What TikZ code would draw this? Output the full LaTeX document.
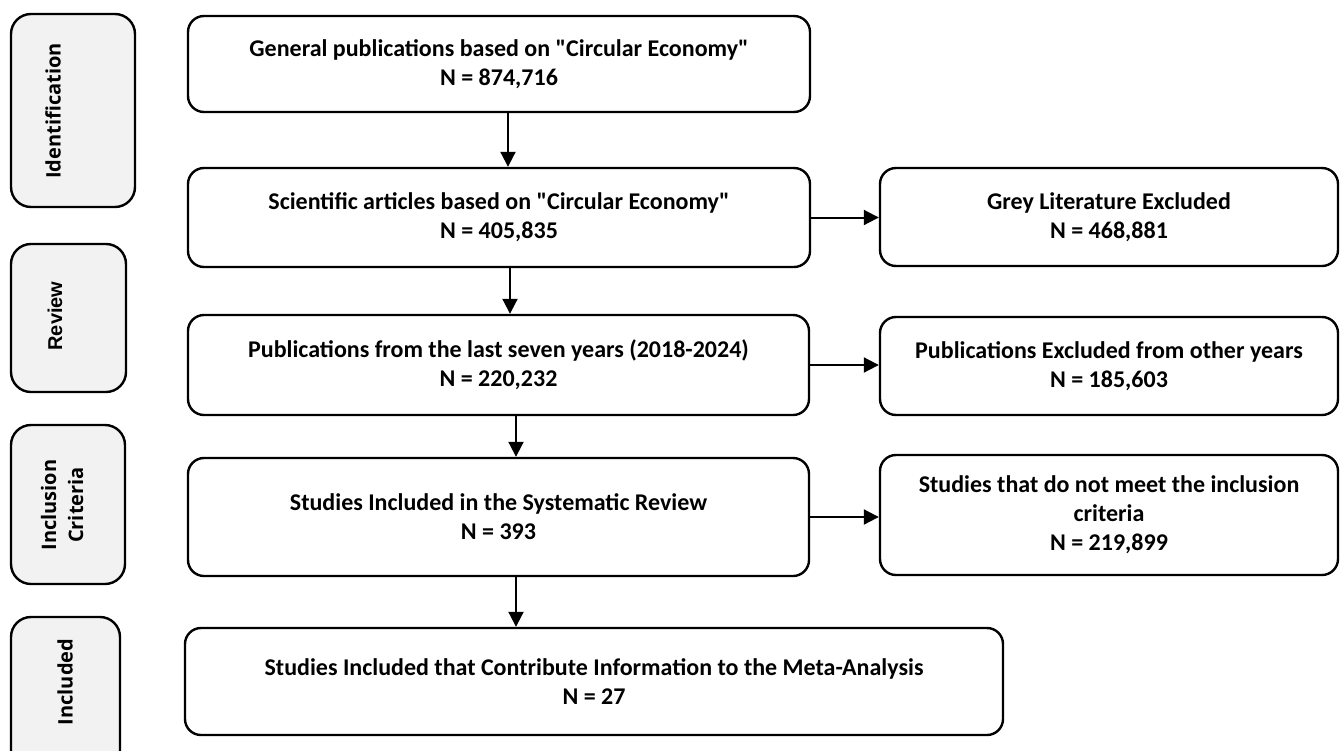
\documentclass[tikz,border=0pt]{standalone}
\usepackage{fontspec}
\newfontfamily\calfont{Carlito}
\newfontfamily\labfont{Open Sans}
\newfontfamily\revfont{Liberation Sans}
\usetikzlibrary{arrows.meta}
\definecolor{stagegray}{HTML}{F2F2F2}
\begin{document}
\begin{tikzpicture}[x=1pt,y=-1pt,
  mainbox/.style={draw, line width=2.4pt, rounded corners=16pt, align=center,
    font=\calfont\bfseries\fontsize{24}{29}\selectfont, inner sep=0pt},
  stagebox/.style={draw, line width=2.4pt, rounded corners=20pt, fill=stagegray, inner sep=0pt},
  stagelabel/.style={rotate=90, align=center, inner sep=0pt,
    font=\labfont\bfseries\fontsize{20}{27}\selectfont},
  flow/.style={line width=2pt, -{Triangle[length=15pt,width=15pt]}}]
\useasboundingbox[fill=white] (0,0) rectangle (1341,750);

% stage boxes
\node[stagebox, minimum width=124pt, minimum height=193pt] (s1) at (73,110.5) {};
\node[stagebox, minimum width=115pt, minimum height=148pt] (s2) at (68.5,318) {};
\node[stagebox, minimum width=114pt, minimum height=159pt] (s3) at (68,504.5) {};
\node[stagebox, minimum width=109pt, minimum height=170pt] (s4) at (65.5,702) {};
\node[stagelabel] (l1) at (53,111) {Identification};
\node[stagelabel, font=\revfont\bfseries\fontsize{20}{27}\selectfont] (l2) at (55,316) {Review};
\node[stagelabel] (l3) at (62,505) {Inclusion\\Criteria};
\node[stagelabel] (l4) at (65,682) {Included};

% main boxes
\node[mainbox, minimum width=622pt, minimum height=96pt] (b1) at (499,64)
  {General publications based on "Circular Economy"\\N = 874,716};
\node[mainbox, minimum width=622pt, minimum height=99pt] (b2) at (499,217.5)
  {Scientific articles based on "Circular Economy"\\N = 405,835};
\node[mainbox, minimum width=621pt, minimum height=100pt] (b3) at (498.5,365)
  {Publications from the last seven years (2018-2024)\\N = 220,232};
\node[mainbox, minimum width=621pt, minimum height=118pt] (b4) at (498.5,517)
  {Studies Included in the Systematic Review\\N = 393};
\node[mainbox, minimum width=818pt, minimum height=107pt] (b5) at (594,681.5)
  {Studies Included that Contribute Information to the Meta-Analysis\\N = 27};

% exclusion boxes
\node[mainbox, minimum width=458pt, minimum height=98pt] (r2) at (1109,217)
  {Grey Literature Excluded\\N = 468,881};
\node[mainbox, minimum width=458pt, minimum height=98pt] (r3) at (1109,366)
  {Publications Excluded from other years\\N = 185,603};
\node[mainbox, minimum width=458pt, minimum height=120pt] (r4) at (1109,515)
  {Studies that do not meet the inclusion\\criteria\\N = 219,899};

% vertical arrows
\draw[flow] ([xshift=9pt]b1.south) -- ([xshift=9pt]b2.north);
\draw[flow] ([xshift=11pt]b2.south) -- ([xshift=11.5pt]b3.north);
\draw[flow] ([xshift=17.5pt]b3.south) -- ([xshift=17.5pt]b4.north);
\draw[flow] ([xshift=17.5pt]b4.south) -- ([xshift=-78pt]b5.north);

% horizontal arrows
\draw[flow] (b2.east) -- (b2.east -| r2.west);
\draw[flow] (b3.east) -- (b3.east -| r3.west);
\draw[flow] (b4.east) -- (b4.east -| r4.west);
\end{tikzpicture}
\end{document}
